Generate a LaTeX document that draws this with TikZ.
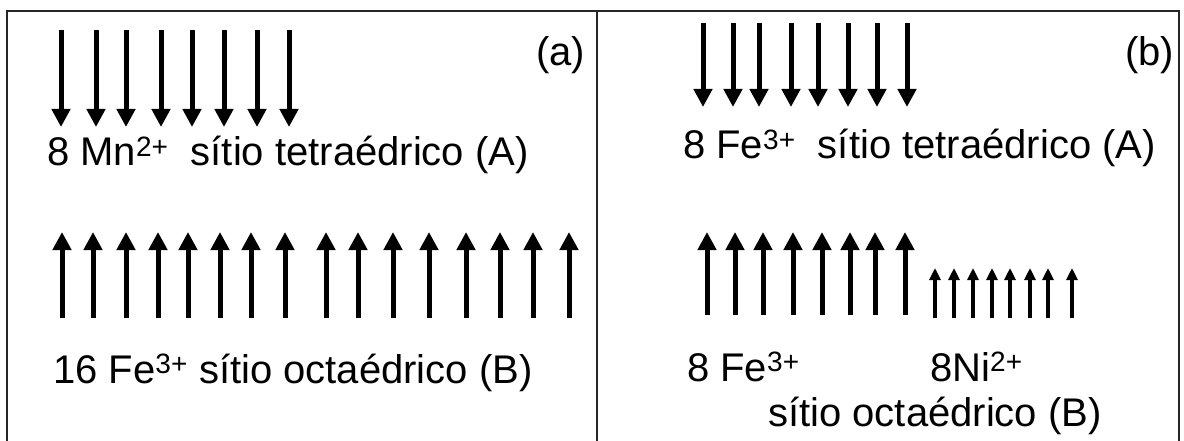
\documentclass[tikz,border=0pt]{standalone}
\usepackage{fontspec}
\setmainfont{Liberation Sans}
\usetikzlibrary{arrows.meta}
\tikzset{
  frame/.style={line width=2pt, draw=black!85},
  spinbig/.style={line width=5pt, -{Triangle[width=18pt,length=18pt]}},
  spinsmall/.style={line width=4.5pt, -{Triangle[width=11pt,length=12pt]}},
  lbl/.style={anchor=base west, inner sep=0pt, font=\fontsize{40}{48}\selectfont}
}
\begin{document}
\begin{tikzpicture}[x=1pt,y=-1pt]
\useasboundingbox (0,0) rectangle (1184,441);
% frame
\draw[frame] (7,441) -- (7,11) -- (1179,11) -- (1179,441);
\draw[frame] (597,11) -- (597,441);
% (a) tetrahedral: 8 down
\foreach \x in {61,96,126,161,192,224,257,289}
  \draw[spinbig] (\x,30) -- (\x,127);
% (a) octahedral: 16 up
\foreach \x in {62,93,126,158,188,220,251,285,326,358,393,429,466,500,533,569}
  \draw[spinbig] (\x,318) -- (\x,232);
% (b) tetrahedral: 8 down
\foreach \x in {703,733,759,791,818,848,877,907}
  \draw[spinbig] (\x,23) -- (\x,107);
% (b) octahedral Fe: 8 up
\foreach \x in {707,735,763,793,822,850,875,905}
  \draw[spinbig] (\x,315) -- (\x,232);
% (b) octahedral Ni: 8 small up
\foreach \x in {935,954,973,992,1010,1030,1048,1072}
  \draw[spinsmall] (\x,318) -- (\x,268);
% labels
\node[lbl] (la) at (536,66) {(a)};
\node[lbl] (lb) at (1125,66) {(b)};
\node[lbl] (ta) at (47,166) {8 Mn\textsuperscript{2+}\ \ sítio tetraédrico (A)};
\node[lbl] (oa) at (53,383) {16 Fe\textsuperscript{3+} sítio octaédrico (B)};
\node[lbl] (tb) at (683,159) {8 Fe\textsuperscript{3+}\ \ sítio tetraédrico (A)};
\node[lbl] (ofe) at (687,381) {8 Fe\textsuperscript{3+}};
\node[lbl] (oni) at (930,381) {8Ni\textsuperscript{2+}};
\node[lbl] (ob) at (768,426) {sítio octaédrico (B)};
\end{tikzpicture}
\end{document}
